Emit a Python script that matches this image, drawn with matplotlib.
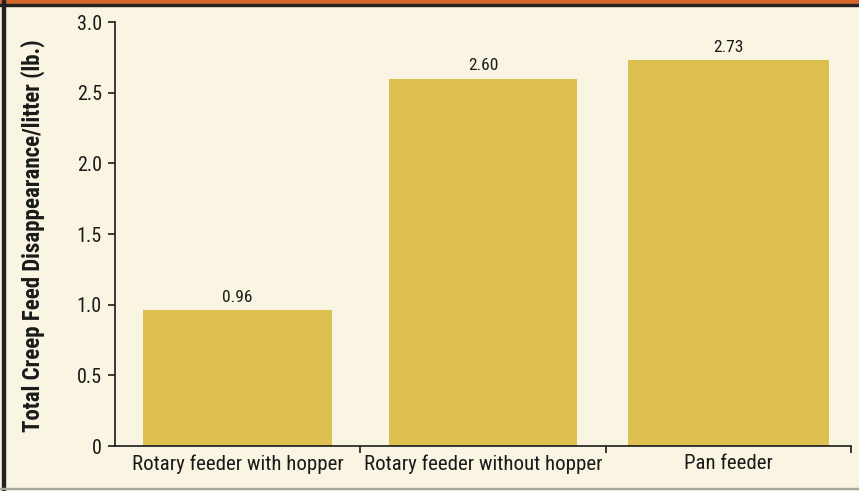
import matplotlib
matplotlib.use("Agg")
import matplotlib.pyplot as plt
from matplotlib.patches import Rectangle

# --- Data ---
categories = ["Rotary feeder with hopper", "Rotary feeder without hopper", "Pan feeder"]
values = [0.96, 2.60, 2.73]
value_labels = ["0.96", "2.60", "2.73"]
y_ticks = [0, 0.5, 1.0, 1.5, 2.0, 2.5, 3.0]
y_tick_labels = ["0", "0.5", "1.0", "1.5", "2.0", "2.5", "3.0"]

bg_color = "#FAF4E2"
bar_color = "#DDC04F"
text_color = "#1a1a1a"

plt.rcParams["font.family"] = ["Roboto Condensed", "Liberation Sans Narrow", "Roboto", "DejaVu Sans"]

fig = plt.figure(figsize=(8.59, 4.91), dpi=100, facecolor=bg_color)
ax = fig.add_axes([115 / 859, 45 / 491, 736 / 859, 424 / 491])
ax.set_facecolor(bg_color)

x = range(len(categories))
bars = ax.bar(x, values, width=[0.77, 0.77, 0.82], color=bar_color, zorder=2)
ax.bar_label(bars, labels=value_labels, padding=4, fontsize=12.5, color=text_color)

# --- Axes styling ---
ax.set_xlim(-0.5, 2.5)
ax.set_ylim(0, 3.0)
ax.set_yticks(y_ticks)
ax.set_yticklabels(y_tick_labels)
ax.set_xticks(list(x))
ax.set_xticklabels(categories)
ax.set_xticks([0.5, 1.5, 2.5], minor=True)
ax.tick_params(axis="x", which="major", length=0, pad=6, labelsize=15, colors=text_color)
ax.tick_params(axis="x", which="minor", length=5, width=1.2, direction="out", color=text_color)
ax.tick_params(axis="y", length=5, width=1.2, direction="out", pad=4.5, labelsize=14.5, colors=text_color)

for side in ["top", "right"]:
    ax.spines[side].set_visible(False)
for side in ["left", "bottom"]:
    ax.spines[side].set_linewidth(1.2)
    ax.spines[side].set_color(text_color)

ax.set_ylabel("Total Creep Feed Disappearance/litter (lb.)", fontsize=16.5,
              fontweight="bold", color=text_color)
ax.yaxis.set_label_coords(-0.095, 0.495)

# --- Frame around the figure ---
W, H = 859, 491
fig.patches.append(Rectangle((0, 1 - 4 / H), 1, 4 / H, transform=fig.transFigure,
                             color="#D4662B", zorder=0))
fig.patches.append(Rectangle((0, 1 - 6 / H), 1, 2 / H, transform=fig.transFigure,
                             color="#222222", zorder=0))
fig.patches.append(Rectangle((2 / W, 0), 2.5 / W, 1, transform=fig.transFigure,
                             color="#222222", zorder=0))
fig.patches.append(Rectangle((0, 2 / H), 1, 1.5 / H, transform=fig.transFigure,
                             color="#a8a8a0", zorder=0))

fig.savefig("out.png", dpi=100, facecolor=bg_color)
